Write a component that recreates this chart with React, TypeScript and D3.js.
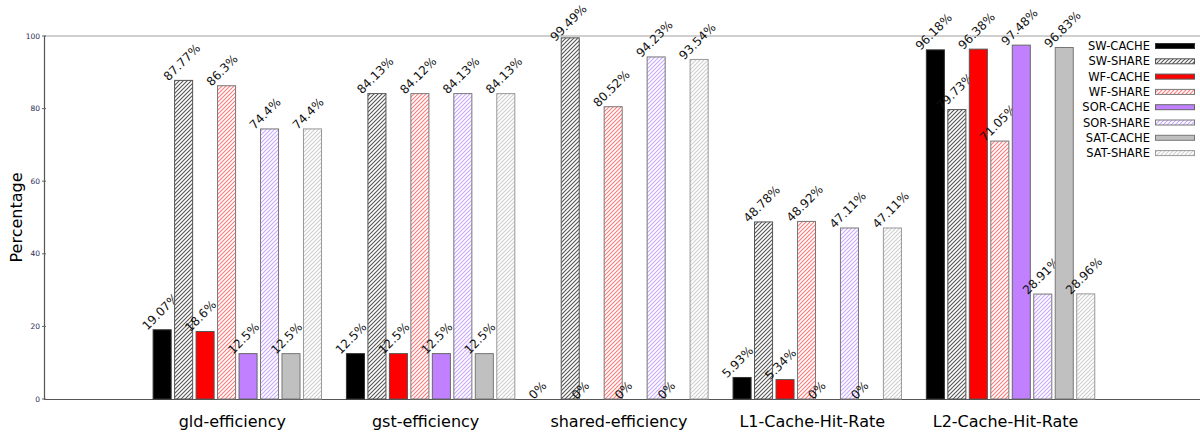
import React, { useEffect, useRef } from "react";
import * as d3 from "d3";

// chart data
const categories = [
  "gld-efficiency",
  "gst-efficiency",
  "shared-efficiency",
  "L1-Cache-Hit-Rate",
  "L2-Cache-Hit-Rate",
];
const seriesNames = [
  "SW-CACHE",
  "SW-SHARE",
  "WF-CACHE",
  "WF-SHARE",
  "SOR-CACHE",
  "SOR-SHARE",
  "SAT-CACHE",
  "SAT-SHARE",
];
const swCache = [19.07, 12.5, 0, 5.93, 96.18];
const swShare = [87.77, 84.13, 99.49, 48.78, 79.73];
const wfCache = [18.6, 12.5, 0, 5.34, 96.38];
const wfShare = [86.3, 84.12, 80.52, 48.92, 71.05];
const sorCache = [12.5, 12.5, 0, 0, 97.48];
const sorShare = [74.4, 84.13, 94.23, 47.11, 28.91];
const satCache = [12.5, 12.5, 0, 0, 96.83];
const satShare = [74.4, 84.13, 93.54, 47.11, 28.96];
const seriesValues = [swCache, swShare, wfCache, wfShare, sorCache, sorShare, satCache, satShare];
const yTicks = [0, 20, 40, 60, 80, 100];

// look of each series: solid fill or hatch
const seriesStyles = [
  { fill: "#000000", hatch: null, border: "#333333" },
  { fill: null, hatch: "#555555", border: "#555555" },
  { fill: "#ff0000", hatch: null, border: "#555555" },
  { fill: null, hatch: "#ff7a7a", border: "#777777" },
  { fill: "#c080ff", hatch: null, border: "#666666" },
  { fill: null, hatch: "#c9a8ff", border: "#777777" },
  { fill: "#c0c0c0", hatch: null, border: "#777777" },
  { fill: null, hatch: "#cfcfcf", border: "#999999" },
];

const FONT = "'DejaVu Sans', Verdana, sans-serif";

const App = () => {
  const svgRef = useRef<SVGSVGElement | null>(null);

  useEffect(() => {
    const width = 1200;
    const height = 436;
    const left = 44;
    const top = 36;
    const bottom = 399;

    const svg = d3.select(svgRef.current);
    svg.selectAll("*").remove();
    svg.attr("width", width).attr("height", height);

    // hatch patterns
    const defs = svg.append("defs");
    seriesStyles.forEach((s, i) => {
      if (!s.hatch) return;
      const p = defs
        .append("pattern")
        .attr("id", `hatch${i}`)
        .attr("patternUnits", "userSpaceOnUse")
        .attr("width", 4)
        .attr("height", 4);
      p.append("rect").attr("width", 4).attr("height", 4).attr("fill", "#fff");
      p.append("path")
        .attr("d", "M-1,1 l2,-2 M0,4 l4,-4 M3,5 l2,-2")
        .attr("stroke", s.hatch)
        .attr("stroke-width", 1.1);
    });
    const fillOf = (i: number) =>
      seriesStyles[i].hatch ? `url(#hatch${i})` : seriesStyles[i].fill;

    const x = d3.scaleLinear().domain([-1, 4.98]).range([left, width]);
    const y = d3.scaleLinear().domain([0, 100]).range([bottom, top]);
    const unit = x(1) - x(0);
    const slot = unit / (seriesNames.length + 1);
    const barW = slot * 0.84;

    // frame
    svg.append("line")
      .attr("x1", left).attr("x2", width)
      .attr("y1", y(100)).attr("y2", y(100))
      .attr("stroke", "#a0a0a0").attr("stroke-width", 1);
    svg.append("line")
      .attr("x1", left).attr("x2", width)
      .attr("y1", y(0) + 0.5).attr("y2", y(0) + 0.5)
      .attr("stroke", "#555").attr("stroke-width", 1.2);
    svg.append("line")
      .attr("x1", left + 0.5).attr("x2", left + 0.5)
      .attr("y1", y(100)).attr("y2", y(0) + 1)
      .attr("stroke", "#555").attr("stroke-width", 1.2);

    // y ticks
    const yt = svg.append("g");
    yTicks.forEach((t) => {
      yt.append("line")
        .attr("x1", left - 2).attr("x2", left + 2)
        .attr("y1", y(t)).attr("y2", y(t))
        .attr("stroke", "#666");
      yt.append("text")
        .attr("x", left - 4)
        .attr("y", y(t))
        .attr("dy", "0.35em")
        .attr("text-anchor", "end")
        .style("font-family", FONT)
        .style("font-size", "7.5px")
        .style("fill", "#2b2b55")
        .text(t);
    });

    // y label
    svg.append("text")
      .attr("transform", `translate(22,${(y(0) + y(100)) / 2}) rotate(-90)`)
      .attr("text-anchor", "middle")
      .style("font-family", FONT)
      .style("font-size", "16px")
      .style("fill", "#000")
      .text("Percentage");

    // x labels
    svg.append("g")
      .selectAll("text")
      .data(categories)
      .enter()
      .append("text")
      .attr("x", (d, i) => x(i) - 5)
      .attr("y", 427)
      .attr("text-anchor", "middle")
      .style("font-family", FONT)
      .style("font-size", "16px")
      .style("fill", "#000")
      .text((d) => d);

    // bars and labels
    seriesValues.forEach((vals, k) => {
      const g = svg.append("g");
      const cx = (i: number) => x(i) + (k - (seriesNames.length - 1) / 2) * slot;
      const pts = vals.map((v, i) => ({ v, i }));
      g.selectAll("rect")
        .data(pts.filter((d) => d.v > 0))
        .enter()
        .append("rect")
        .attr("x", (d) => cx(d.i) - barW / 2)
        .attr("y", (d) => y(d.v))
        .attr("width", barW)
        .attr("height", (d) => y(0) - y(d.v))
        .attr("fill", fillOf(k) as string)
        .attr("stroke", seriesStyles[k].border)
        .attr("stroke-width", 1);
      g.selectAll("text")
        .data(pts)
        .enter()
        .append("text")
        .attr(
          "transform",
          (d) => `translate(${cx(d.i) - 15},${Math.max(y(d.v) + 1, 42)}) rotate(-45)`
        )
        .style("font-family", FONT)
        .style("font-size", "12px")
        .style("fill", "#111")
        .text((d) => `${d.v}%`);
    });

    // legend
    const lg = svg.append("g");
    seriesNames.forEach((name, k) => {
      const cy = 46 + k * 15.3;
      lg.append("text")
        .attr("x", 1150)
        .attr("y", cy)
        .attr("dy", "0.35em")
        .attr("text-anchor", "end")
        .style("font-family", FONT)
        .style("font-size", "11.5px")
        .style("fill", "#000")
        .text(name);
      lg.append("rect")
        .attr("x", 1155.5)
        .attr("y", cy - 2.5)
        .attr("width", 39)
        .attr("height", 5)
        .attr("fill", fillOf(k) as string)
        .attr("stroke", seriesStyles[k].border)
        .attr("stroke-width", 1);
    });
  }, []);

  return (
    <div style={{ position: "absolute", left: 0, top: 0, background: "#fff" }}>
      <svg ref={svgRef} style={{ display: "block" }}></svg>
    </div>
  );
};

export default App;
